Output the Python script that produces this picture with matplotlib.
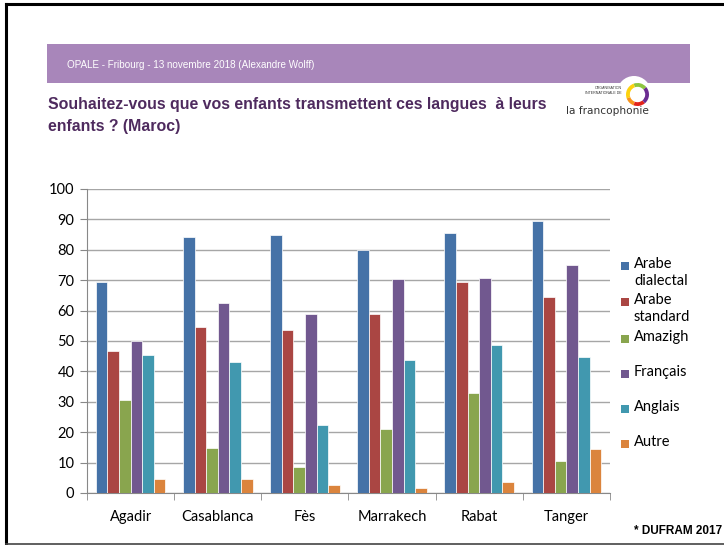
import matplotlib
matplotlib.use("Agg")
import matplotlib.pyplot as plt
import numpy as np
from matplotlib.patches import Rectangle, Wedge, Circle
from matplotlib.lines import Line2D

cities = ["Agadir", "Casablanca", "Fès", "Marrakech", "Rabat", "Tanger"]
languages = ["Arabe\ndialectal", "Arabe\nstandard", "Amazigh", "Français", "Anglais", "Autre"]
arabe_dialectal = [69.3, 84.2, 85.0, 80.0, 85.5, 89.5]
arabe_standard = [46.7, 54.6, 53.7, 59.0, 69.5, 64.5]
amazigh = [30.7, 14.8, 8.7, 21.0, 32.9, 10.5]
francais = [50.0, 62.5, 58.8, 70.5, 70.7, 75.0]
anglais = [45.5, 43.2, 22.4, 43.7, 48.8, 44.7]
autre = [4.5, 4.5, 2.5, 1.8, 3.6, 14.4]
series = [arabe_dialectal, arabe_standard, amazigh, francais, anglais, autre]
colors = ["#4572A7", "#AA4643", "#89A54E", "#71588F", "#4198AF", "#DB843D"]

W, H = 724, 545
fig = plt.figure(figsize=(W / 100, H / 100), dpi=100)

def fx(px):
    return px / W

def fy(py):
    return 1 - py / H

# frame lines
fig.add_artist(Line2D([fx(6), 1], [fy(4), fy(4)], color="black", lw=2.2))
fig.add_artist(Line2D([fx(6), fx(6)], [fy(4), fy(544)], color="black", lw=2.2))
fig.add_artist(Line2D([fx(6), 1], [fy(543.5), fy(543.5)], color="#444444", lw=1.2))

# purple band
fig.add_artist(Rectangle((fx(47), fy(83)), fx(690) - fx(47), fy(44) - fy(83),
                         transform=fig.transFigure, facecolor="#A886BA", edgecolor="none",
                         zorder=0.5))
fig.text(fx(67), fy(65), "OPALE - Fribourg - 13 novembre 2018 (Alexandre Wolff)",
         color="white", fontsize=7.1, family="Liberation Sans", va="center", ha="left")

# title
fig.text(fx(48), fy(104), "Souhaitez-vous que vos enfants transmettent ces langues  à leurs",
         color="#4E2A5E", fontsize=11.4, fontweight="bold", family="Liberation Sans",
         va="center", ha="left")
fig.text(fx(48), fy(126), "enfants ? (Maroc)",
         color="#4E2A5E", fontsize=11.4, fontweight="bold", family="Liberation Sans",
         va="center", ha="left")

# logo
lax = fig.add_axes([fx(560), fy(122), fx(660) - fx(560), fy(70) - fy(122)], zorder=2)
lax.set_xlim(560, 660)
lax.set_ylim(122, 70)
lax.set_aspect("equal")
lax.axis("off")
lax.add_patch(Circle((634, 93), 17, facecolor="white", edgecolor="none"))
ring = [(40, 110, "#8DC63F"), (110, 200, "#FDD20E"), (200, 250, "#F7941D"),
        (250, 310, "#E2231A"), (310, 400, "#6B2C91")]
for a1, a2, c in ring:
    lax.add_patch(Wedge((637.5, 94.5), 11.5, -a2, -a1, width=3.8, facecolor=c, edgecolor="none"))
lax.text(622, 88, "ORGANISATION", fontsize=2.6, ha="right", va="center", color="#333333",
         family="Liberation Sans")
lax.text(622, 93.5, "INTERNATIONALE DE", fontsize=2.6, ha="right", va="center", color="#333333",
         family="Liberation Sans")
lax.text(607, 111, "la francophonie", fontsize=7.6, ha="center", va="center", color="#333333",
         family="DejaVu Sans")

# chart
ax = fig.add_axes([fx(87), fy(493), fx(610) - fx(87), fy(189) - fy(493)])
x = np.arange(len(cities))
bw = 1 / 7.5
for i, (vals, c) in enumerate(zip(series, colors)):
    ax.bar(x + (i - 2.5) * bw, vals, width=bw, color=c, edgecolor="#FFFFFF", linewidth=0.5,
           zorder=3)

ax.set_xlim(-0.5, len(cities) - 0.5)
ax.set_ylim(0, 100)
ax.set_yticks(np.arange(0, 101, 10))
ax.yaxis.grid(True, color="#A6A6A6", lw=1.0, zorder=0)
ax.set_axisbelow(True)
ax.set_xticks(x)
ax.set_xticklabels(cities)
ax.set_xticks(np.arange(-0.5, len(cities)), minor=True)
ax.tick_params(axis="x", which="major", length=0, pad=12, labelsize=10.5)
ax.tick_params(axis="x", which="minor", length=5, color="#888888", direction="out")
ax.tick_params(axis="y", length=5, color="#888888", direction="out", labelsize=10.5, pad=4)
for lab in ax.get_xticklabels() + ax.get_yticklabels():
    lab.set_family("Lato")
for s in ["top", "right"]:
    ax.spines[s].set_visible(False)
ax.spines["left"].set_color("#888888")
ax.spines["bottom"].set_color("#888888")

# legend (manual)
leg_y = [266, 302, 339, 374, 409, 444]
for lab, c, yy in zip(languages, colors, leg_y):
    fig.add_artist(Rectangle((fx(621), fy(yy + 4)), fx(8), fy(0) - fy(8),
                             transform=fig.transFigure, facecolor=c, edgecolor="none"))
    fig.text(fx(634), fy(yy - 9), lab, fontsize=10.5, family="Lato", va="top", ha="left",
             linespacing=1.25)

fig.text(fx(722), fy(531), "* DUFRAM 2017", fontsize=8.5, fontweight="bold",
         family="Liberation Sans", ha="right", va="center")

fig.savefig("out.png", dpi=100)
